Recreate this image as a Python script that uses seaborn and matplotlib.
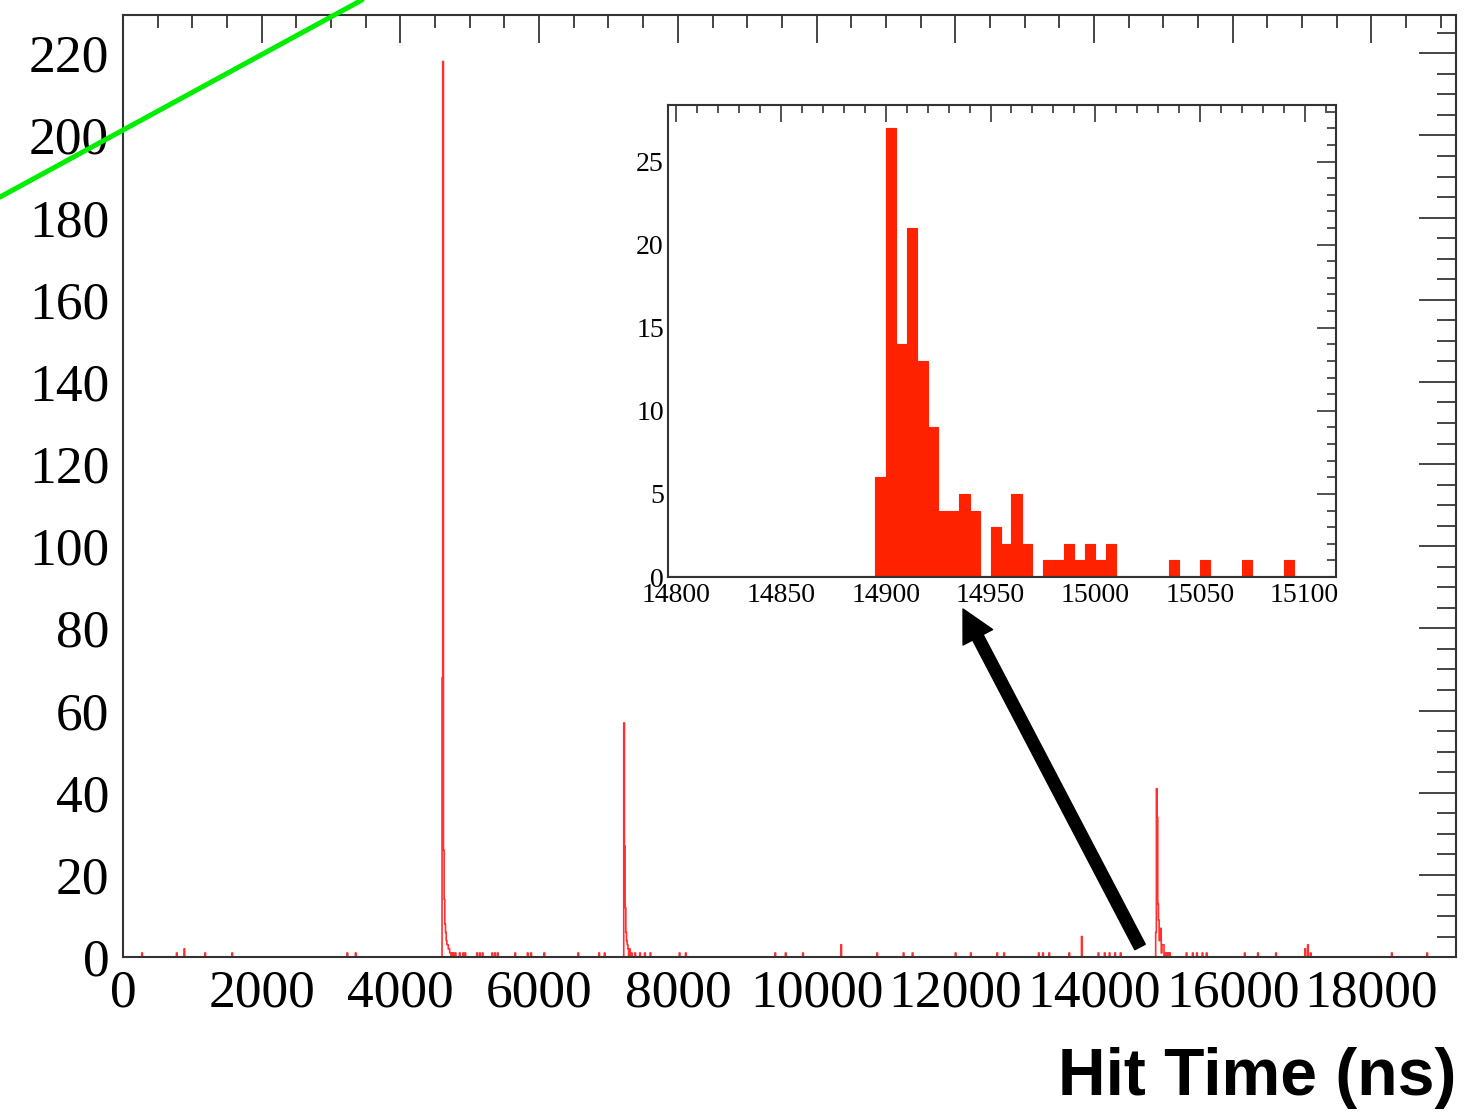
import numpy as np
import pandas as pd
import seaborn as sns
import matplotlib.pyplot as plt
from matplotlib.ticker import MultipleLocator

# main histogram: 10 ns bins, bin centres and counts (only non-empty bins)
main_times = [275, 775, 885, 1185, 1575, 3235, 3355,
              4605, 4615, 4625, 4635, 4645, 4655, 4665, 4675, 4685, 4695,
              4705, 4715, 4725, 4745, 4765, 4795, 4855, 4905, 4935,
              5105, 5145, 5185, 5325, 5365, 5405, 5655, 5835, 5885, 6075,
              6565, 6865, 6945,
              7225, 7235, 7245, 7255, 7265, 7275, 7285, 7305, 7335, 7385,
              7455, 7525, 7605, 8025, 8115,
              9405, 9555, 9805, 10355, 10875, 11255, 11385, 12005, 12225,
              12605, 12705, 13205, 13265, 13355, 13645, 13825,
              14065, 14155, 14225, 14305, 14385,
              14895, 14905, 14915, 14925, 14935, 14945, 14955, 14965, 14975,
              14985, 14995, 15005, 15035, 15055, 15075, 15095,
              15335, 15425, 15485, 15565, 15625, 16175, 16365, 16625,
              17045, 17085, 17125, 18295, 18805]
main_counts = [1, 1, 2, 1, 1, 1, 1,
               68, 218, 26, 14, 8, 6, 4, 3, 3, 2,
               2, 1, 1, 1, 1, 1, 1, 1, 1,
               1, 1, 1, 1, 1, 1, 1, 1, 1, 1,
               1, 1, 1,
               57, 27, 12, 6, 4, 3, 2, 2, 1, 1,
               1, 1, 1, 1, 1,
               1, 1, 1, 3, 1, 1, 1, 1, 1,
               1, 1, 1, 1, 1, 1, 5,
               1, 1, 1, 1, 1,
               6, 41, 34, 13, 9, 4, 5, 7, 1,
               3, 3, 3, 1, 1, 1, 1,
               1, 1, 1, 1, 1, 1, 1, 1,
               2, 3, 1, 1, 1]

# inset: zoom on the third peak, 5 ns bins
inset_times = [14897.5, 14902.5, 14907.5, 14912.5, 14917.5, 14922.5, 14927.5,
               14932.5, 14937.5, 14942.5, 14952.5, 14957.5, 14962.5, 14967.5,
               14977.5, 14982.5, 14987.5, 14992.5, 14997.5, 15002.5, 15007.5,
               15037.5, 15052.5, 15072.5, 15092.5]
inset_counts = [6, 27, 14, 21, 13, 9, 4,
                4, 5, 4, 3, 2, 5, 2,
                1, 1, 2, 1, 2, 1, 2,
                1, 1, 1, 1]

main_df = pd.DataFrame({"time": main_times, "count": main_counts})
inset_df = pd.DataFrame({"time": inset_times, "count": inset_counts})

sns.set_theme(style="white")
plt.rcParams["font.family"] = ["Liberation Serif", "DejaVu Serif"]

fig = plt.figure(figsize=(14.75, 11.17), dpi=100)
ax = fig.add_axes([0.0834, 0.1432, 0.9037, 0.8433])

main_edges = np.arange(0, 19230, 10).tolist()
sns.histplot(data=main_df, x="time", weights="count", bins=main_edges, element="step",
             fill=False, color="#ff3030", linewidth=1.2, ax=ax)
ax.set_xlim(0, 19220)
ax.set_ylim(0, 229.3)
ax.set_ylabel("")
ax.set_xlabel("")
ax.xaxis.set_major_locator(MultipleLocator(2000))
ax.xaxis.set_minor_locator(MultipleLocator(500))
ax.yaxis.set_major_locator(MultipleLocator(20))
ax.yaxis.set_minor_locator(MultipleLocator(5))
ax.tick_params(axis="both", which="both", direction="in", top=True, right=True,
               colors="#444444", labelcolor="black", width=1.4)
ax.tick_params(axis="x", which="major", length=20, pad=9, labelsize=38.5)
ax.tick_params(axis="x", which="minor", length=9.5)
ax.tick_params(axis="y", which="major", length=27, pad=10, labelsize=38.5)
ax.tick_params(axis="y", which="minor", length=13.5)
for sp in ax.spines.values():
    sp.set_color("#333333")
    sp.set_linewidth(1.5)

fig.text(0.9871, 0.0197, "Hit Time (ns)", ha="right", va="baseline", color="black",
         fontsize=47.5, fontweight="bold", family=["Liberation Sans", "DejaVu Sans"])

# inset
ax_in = fig.add_axes([0.4529, 0.4834, 0.4529, 0.4226])
inset_edges = np.arange(14795, 15120, 5).tolist()
sns.histplot(data=inset_df, x="time", weights="count", bins=inset_edges, element="step",
             fill=True, alpha=1, color="#ff2200", edgecolor="#ff2200",
             linewidth=0.8, ax=ax_in)
ax_in.set_xlim(14796, 15115)
ax_in.set_ylim(0, 28.4)
ax_in.set_ylabel("")
ax_in.set_xlabel("")
ax_in.xaxis.set_major_locator(MultipleLocator(50))
ax_in.xaxis.set_minor_locator(MultipleLocator(10))
ax_in.yaxis.set_major_locator(MultipleLocator(5))
ax_in.yaxis.set_minor_locator(MultipleLocator(1))
ax_in.tick_params(axis="both", which="both", direction="in", top=True, right=True,
                  colors="#333333", labelcolor="black", width=1.2, labelsize=20)
ax_in.tick_params(axis="x", which="major", length=12, pad=4)
ax_in.tick_params(axis="x", which="minor", length=6)
ax_in.tick_params(axis="y", which="major", length=14, pad=3)
ax_in.tick_params(axis="y", which="minor", length=6.5)
for sp in ax_in.spines.values():
    sp.set_color("#333333")
    sp.set_linewidth(1.5)
ax_in.axhline(0, color="#8b0000", linewidth=1.5)

# green stray line and black arrow
fig.add_artist(plt.Line2D([0.0, 0.2454], [0.8236, 1.0], color="#00ee00",
                          linewidth=3.6, transform=fig.transFigure))
ax.annotate("", xy=(0.6529, 0.4548), xycoords="figure fraction",
            xytext=(0.7729, 0.1522), textcoords="figure fraction",
            arrowprops=dict(facecolor="black", edgecolor="black", width=8.5,
                            headwidth=24, headlength=23, shrink=0))

plt.savefig("out.png", dpi=100)
plt.close()
